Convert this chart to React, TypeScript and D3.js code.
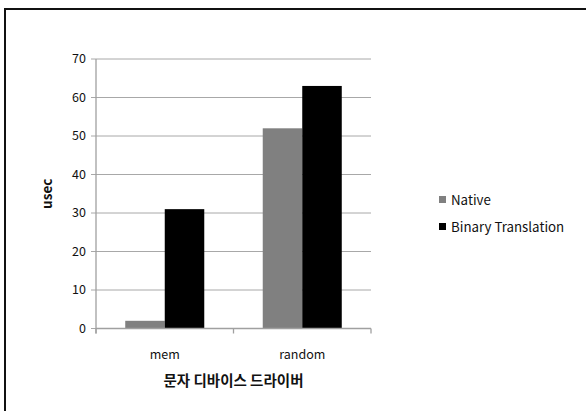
import React, { useEffect, useRef } from "react";
import * as d3 from "d3";

const categories = ["mem", "random"];
const seriesNames = ["Native", "Binary Translation"];
const seriesColors = ["#808080", "#000000"];
const nativeValues = [2, 52];
const binaryValues = [31, 63];
const yTicks = [0, 10, 20, 30, 40, 50, 60, 70];

const W = 586;
const H = 411;
const FONT = "'Noto Sans CJK KR', 'Open Sans', sans-serif";

export default function App() {
  const svgRef = useRef<SVGSVGElement>(null);

  useEffect(() => {
    if (!svgRef.current) return;
    const svg = d3.select(svgRef.current);
    svg.selectAll("*").remove();

    // 外枠
    svg.append("rect").attr("width", W).attr("height", H).attr("fill", "#fff");
    svg
      .append("path")
      .attr("d", `M5,${H} L5,9 L${W},9`)
      .attr("fill", "none")
      .attr("stroke", "#111")
      .attr("stroke-width", 2);

    const left = 96;
    const right = 371;
    const top = 59;
    const bottom = 328.5;

    const x = d3.scaleBand<string>().domain(categories).range([left, right]).padding(0);
    const xs = d3
      .scaleBand<string>()
      .domain(seriesNames)
      .range([0, x.bandwidth()])
      .paddingInner(0)
      .paddingOuter(0.74);
    const y = d3.scaleLinear().domain([0, 70]).range([bottom, top]);

    // グリッド線
    const grid = svg.append("g");
    yTicks.forEach((t) => {
      grid
        .append("line")
        .attr("x1", left - 5)
        .attr("x2", right)
        .attr("y1", y(t))
        .attr("y2", y(t))
        .attr("stroke", "#a8a8a8")
        .attr("stroke-width", 1);
      svg
        .append("text")
        .attr("x", left - 10)
        .attr("y", y(t))
        .attr("dy", "0.35em")
        .attr("text-anchor", "end")
        .style("font-family", FONT)
        .style("font-size", "12.5px")
        .attr("fill", "#111")
        .text(t);
    });

    // 棒
    const data = categories.map((c, i) => ({ c, vals: [nativeValues[i], binaryValues[i]] }));
    data.forEach((d) => {
      d.vals.forEach((v, j) => {
        svg
          .append("rect")
          .attr("x", (x(d.c) || 0) + (xs(seriesNames[j]) || 0))
          .attr("y", y(v))
          .attr("width", xs.bandwidth())
          .attr("height", y(0) - y(v))
          .attr("fill", seriesColors[j]);
      });
    });

    // 軸
    svg
      .append("line")
      .attr("x1", left)
      .attr("x2", left)
      .attr("y1", top)
      .attr("y2", bottom + 5)
      .attr("stroke", "#a0a0a0")
      .attr("stroke-width", 1.3);
    svg
      .append("line")
      .attr("x1", left)
      .attr("x2", right)
      .attr("y1", bottom)
      .attr("y2", bottom)
      .attr("stroke", "#a0a0a0")
      .attr("stroke-width", 1.3);
    [left, (x(categories[1]) || 0), right].forEach((px) => {
      svg
        .append("line")
        .attr("x1", px)
        .attr("x2", px)
        .attr("y1", bottom)
        .attr("y2", bottom + 5)
        .attr("stroke", "#a0a0a0")
        .attr("stroke-width", 1.3);
    });

    categories.forEach((c) => {
      svg
        .append("text")
        .attr("x", (x(c) || 0) + x.bandwidth() / 2)
        .attr("y", 359)
        .attr("text-anchor", "middle")
        .style("font-family", FONT)
        .style("font-size", "12.5px")
        .attr("fill", "#111")
        .text(c);
    });

    // 軸ラベル
    svg
      .append("text")
      .attr("x", (left + right) / 2)
      .attr("y", 386)
      .attr("text-anchor", "middle")
      .style("font-family", FONT)
      .style("font-size", "14.5px")
      .style("font-weight", "bold")
      .attr("fill", "#111")
      .text("문자 디바이스 드라이버");
    svg
      .append("text")
      .attr("transform", `translate(52,${(top + bottom) / 2}) rotate(-90)`)
      .attr("text-anchor", "middle")
      .style("font-family", FONT)
      .style("font-size", "13.5px")
      .style("font-weight", "bold")
      .attr("fill", "#111")
      .text("usec");

    // 凡例
    seriesNames.forEach((s, i) => {
      const ly = 200 + i * 27;
      svg
        .append("rect")
        .attr("x", 439)
        .attr("y", ly - 4)
        .attr("width", 7)
        .attr("height", 7)
        .attr("fill", seriesColors[i]);
      svg
        .append("text")
        .attr("x", 451)
        .attr("y", ly)
        .attr("dy", "0.35em")
        .style("font-family", FONT)
        .style("font-size", "13.3px")
        .attr("fill", "#111")
        .text(s);
    });
  }, []);

  return (
    <svg
      ref={svgRef}
      width={W}
      height={H}
      style={{ position: "absolute", left: 0, top: 0, display: "block" }}
    />
  );
}
